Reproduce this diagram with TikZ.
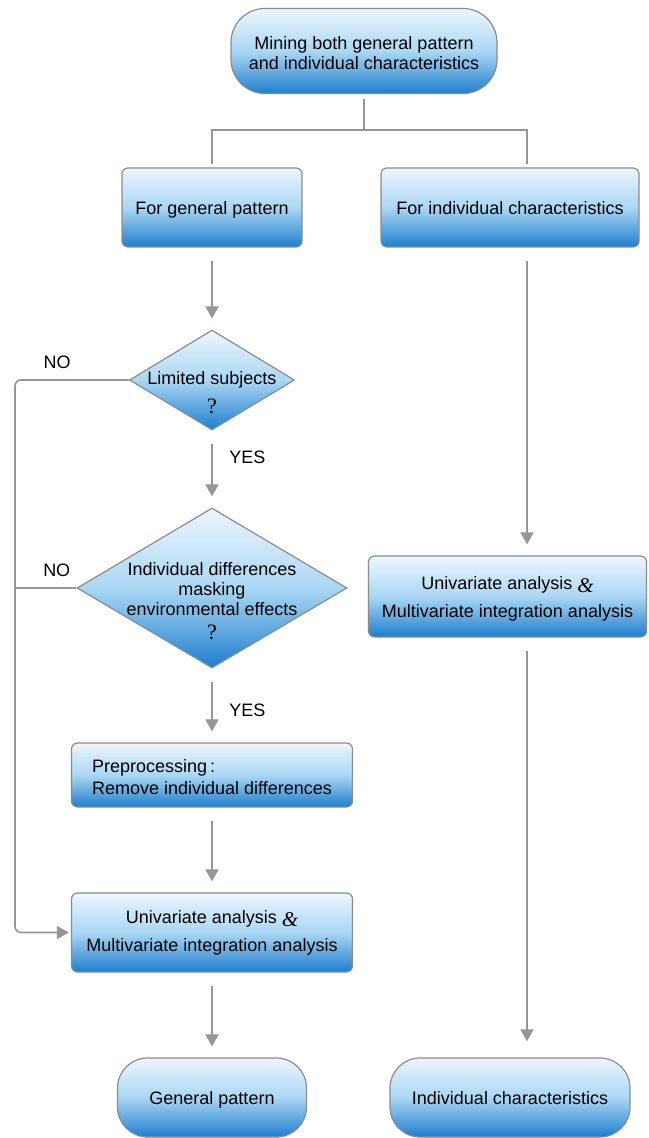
\documentclass[tikz,border=0pt]{standalone}
\usepackage{fontspec}
\setmainfont{Liberation Sans}
\newfontfamily\timesfont{Liberation Serif}
\usetikzlibrary{shapes.geometric,arrows.meta}

\definecolor{boxtop}{RGB}{236,246,253}
\definecolor{boxmid}{RGB}{170,215,244}
\definecolor{boxbot}{RGB}{30,126,206}
\definecolor{edgegray}{RGB}{140,140,140}
\definecolor{linegray}{RGB}{150,150,150}

\newcommand{\tstrut}{\rule[-2pt]{0pt}{11pt}}
\newcommand{\qmark}{{\timesfont\fontsize{11}{11}\selectfont ?}}
\newcommand{\bigamp}{\raisebox{-1.5pt}{\timesfont\itshape\fontsize{10.5}{10.5}\selectfont\&}}

\begin{document}
\begin{tikzpicture}[x=0.5pt, y=-0.5pt,
    font=\fontsize{9}{10}\selectfont,
    shaded/.style={draw=edgegray, line width=0.6pt, top color=boxtop, bottom color=boxbot, middle color=boxmid, align=center, inner sep=2pt},
    procbox/.style={shaded, rounded corners=3pt},
    terminal/.style={shaded, rounded corners=15pt},
    decision/.style={shaded, diamond, inner sep=0pt},
    link/.style={draw=linegray, line width=0.8pt},
    arr/.style={link, -{Triangle[width=6.5pt,length=6pt]}, shorten <=6.5pt, shorten >=5.5pt},
    yeslbl/.style={right, xshift=5pt},
    nolbl/.style={above, yshift=2pt}
]
    % Page
    \fill[white] (0,0) rectangle (648,1138);
    \useasboundingbox (0,0) rectangle (648,1138);

    % Start
    \node[terminal, minimum width=133pt, minimum height=42.5pt, rounded corners=17pt] (mine) at (364,51) {\tstrut Mining both general pattern\\and individual characteristics};

    % Two branches
    \node[procbox, minimum width=90pt, minimum height=39.5pt] (gen) at (212,207.5) {\tstrut For general pattern};
    \node[procbox, minimum width=129pt, minimum height=39.5pt] (indv) at (510,207.5) {\tstrut For individual characteristics};

    % Decisions
    \node[decision, minimum width=82.5pt, minimum height=50pt] (lim) at (212,380) {};
    \node[align=center] (limtxt) at (212,393) {Limited subjects\\[4.5pt]\qmark};
    \node[decision, minimum width=135pt, minimum height=80pt] (idiff) at (212,588) {};
    \node[align=center] (idifftxt) at (212,601) {Individual differences\\masking\\environmental effects\\[2pt]\qmark};

    % Processing
    \node[procbox, minimum width=140.5pt, minimum height=32pt, align=left] (prep) at (212,775) {\tstrut Preprocessing\,:\\[1pt]Remove individual differences};
    \node[procbox, minimum width=140.5pt, minimum height=39.5pt] (uvl) at (212,932.5) {Univariate analysis \bigamp\\[4pt]Multivariate integration analysis};
    \node[procbox, minimum width=139pt, minimum height=40.5pt] (uvr) at (507.5,596.5) {\tstrut Univariate analysis \bigamp\\[4pt]Multivariate integration analysis};

    % Results
    \node[terminal, minimum width=94.5pt, minimum height=39.5pt] (gpat) at (212,1097.5) {\tstrut General pattern};
    \node[terminal, minimum width=120pt, minimum height=39.5pt] (ichar) at (510,1097.5) {\tstrut Individual characteristics};

    % Bend points
    \coordinate (fork) at (364,130);
    \coordinate (colR) at (527,0);
    \coordinate (loopT) at (15,380);
    \coordinate (loopB) at (15,932.5);

    % Split
    \draw[link, shorten <=2.5pt] (mine) -- (fork);
    \draw[link, shorten >=1.5pt] (fork) -| (gen);
    \draw[link, shorten >=1.5pt] (fork) -| (indv.north -| colR);

    % Left column
    \draw[arr] (gen) -- (lim);
    \draw[arr] (lim) -- node[yeslbl, pos=0.35] {YES} (idiff);
    \draw[arr] (idiff) -- node[yeslbl, pos=0.56] {YES} (prep);
    \draw[arr] (prep) -- (uvl);
    \draw[arr] (uvl) -- (gpat);

    % NO branches
    \draw[arr, rounded corners=3pt, shorten <=0pt, shorten >=1pt] (lim.west) -- node[nolbl, pos=0.63] {NO} (loopT) -- (loopB) -- (uvl.west);
    \draw[link] (idiff.west) -- node[nolbl, pos=0.32] {NO} (idiff.west -| loopT);

    % Right column
    \draw[arr] (indv.south -| colR) -- (uvr.north -| colR);
    \draw[arr, shorten >=8pt] (uvr.south -| colR) -- (ichar.north -| colR);
\end{tikzpicture}
\end{document}
